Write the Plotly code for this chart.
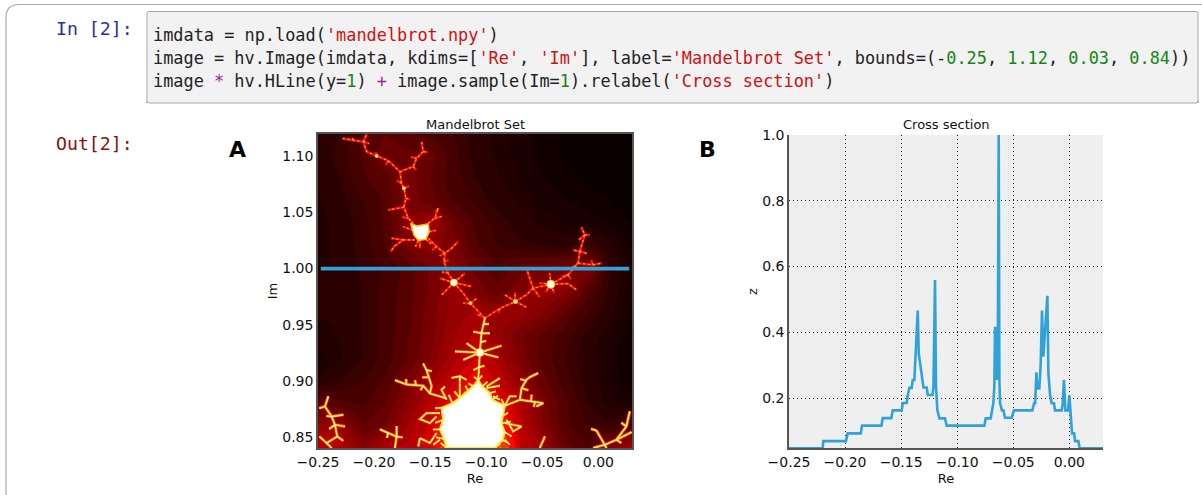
import plotly.graph_objects as go

W, H = 1202, 495

# ---------- data ----------
GRID_RE = [-.25, -.23, -.21, -.19, -.17, -.15, -.13, -.11, -.09, -.07, -.05, -.03, -.01, .01, .03]
GRID_IM = [1.12, 1.10, 1.08, 1.06, 1.04, 1.02, 1.00, .98, .96, .94, .92, .90, .88, .86, .84]
GRID_Z = [
    [.05, .07, .11, .14, .12, .11, .09, .06, .04, .03, .02, .01, .00, .00, .00],
    [.05, .08, .12, .16, .15, .15, .10, .06, .045, .03, .02, .01, .00, .00, .00],
    [.05, .07, .11, .13, .18, .14, .10, .07, .05, .035, .025, .02, .01, .00, .00],
    [.045, .06, .09, .12, .18, .15, .11, .085, .06, .045, .03, .025, .02, .012, .00],
    [.04, .055, .08, .12, .20, .24, .16, .11, .08, .06, .045, .035, .03, .022, .012],
    [.04, .055, .08, .115, .17, .20, .18, .12, .09, .075, .07, .06, .09, .05, .02],
    [.047, .05, .075, .095, .125, .17, .20, .16, .12, .16, .16, .19, .19, .065, .03],
    [.05, .05, .07, .10, .13, .17, .22, .18, .15, .18, .22, .20, .12, .06, .025],
    [.05, .05, .07, .10, .13, .18, .22, .24, .22, .22, .19, .13, .09, .05, .02],
    [.04, .05, .07, .10, .14, .18, .23, .27, .22, .17, .13, .10, .06, .035, .015],
    [.03, .045, .07, .10, .14, .19, .25, .30, .25, .18, .13, .09, .055, .03, .012],
    [.05, .07, .09, .12, .18, .23, .29, .38, .29, .21, .15, .10, .06, .03, .01],
    [.14, .12, .11, .14, .20, .27, .38, .80, .38, .26, .18, .12, .07, .04, .03],
    [.22, .22, .14, .17, .24, .31, .50, 1.0, .50, .28, .19, .12, .09, .08, .12],
    [.30, .28, .20, .26, .27, .34, .60, 1.0, .60, .30, .24, .15, .12, .20, .25],
]
BAND_LEVELS = [0, .012, .024, .036, .048, .07, .09, .115, .14, .165, .19, .21, .235, .26, .30, .34, .38, .45, .55, .70, .85, 1.0]

THIN_FILAMENTS = [
    [(-.228, 1.116), (-.2185, 1.1147), (-.2096, 1.113), (-.2066, 1.1043), (-.1977, 1.1004), (-.1873, 1.0962),
     (-.1769, 1.0864), (-.1755, 1.076), (-.1734, 1.0716), (-.1716, 1.0627), (-.1734, 1.0547), (-.1695, 1.0449), (-.1651, 1.0404)],
    [(-.2096, 1.113), (-.2072, 1.1182), (-.2066, 1.12)],
    [(-.1769, 1.0864), (-.1651, 1.0909), (-.1621, 1.0983), (-.1562, 1.1043), (-.1576, 1.1132)],
    [(-.1562, 1.1043), (-.1523, 1.1037)],
    [(-.1734, 1.0547), (-.1799, 1.0538), (-.1873, 1.0523)],
    [(-.1517, 1.0404), (-.1458, 1.0449), (-.1428, 1.0538)],
    [(-.1458, 1.0449), (-.1398, 1.0464)],
    [(-.165, 1.034), (-.174, 1.0374)],
    [(-.1636, 1.0256), (-.174, 1.0256), (-.1814, 1.0202), (-.1853, 1.0152)],
    [(-.174, 1.0256), (-.1844, 1.027)],
    [(-.1591, 1.026), (-.1591, 1.0181)],
    [(-.1517, 1.027), (-.1443, 1.0196), (-.1368, 1.0137), (-.1309, 1.0181), (-.125, 1.0241)],
    [(-.1368, 1.0137), (-.1377, 1.0063), (-.1339, .9959), (-.1288, .9875)],
    [(-.1288, .9875), (-.1413, .9914)],
    [(-.1288, .9875), (-.119, .9959)],
    [(-.1288, .9875), (-.1398, .9766)],
    [(-.1288, .9875), (-.1131, .984)],
    [(-.1288, .9875), (-.1205, .978), (-.114, .9691), (-.1012, .9558)],
    [(-.1146, .9691), (-.1205, .9691)],
    [(-.114, .9691), (-.1085, .9735)],
    [(-.1012, .9558), (-.0878, .9644), (-.0739, .9706)],
    [(-.0739, .9706), (-.0834, .9766)],
    [(-.0739, .9706), (-.0641, .9766), (-.0582, .9825), (-.0424, .986)],
    [(-.0739, .9706), (-.0641, .9655)],
    [(-.0582, .9825), (-.0626, .9959), (-.0641, 1.0003)],
    [(-.0424, .986), (-.0433, .9959)],
    [(-.0424, .986), (-.0522, .987)],
    [(-.0424, .986), (-.027, .9866), (-.0195, .981)],
    [(-.0424, .986), (-.027, .9944), (-.018, 1.0048), (-.0166, 1.0152), (-.0225, 1.0166)],
    [(-.0166, 1.0152), (-.0121, 1.03), (-.015, 1.0368)],
    [(-.0121, 1.03), (-.0077, 1.03)],
    [(-.018, 1.0048), (-.0047, 1.0033), (.0027, 1.0048)],
    # short spurs
    [(-.2185, 1.1147), (-.2195, 1.1165)], [(-.2096, 1.113), (-.2045, 1.1115)], [(-.1977, 1.1004), (-.1985, 1.104)],
    [(-.1873, 1.0962), (-.1895, 1.0925)], [(-.1755, 1.076), (-.1795, 1.0785)], [(-.1734, 1.0716), (-.169, 1.0735)],
    [(-.1716, 1.0627), (-.168, 1.0615)], [(-.1695, 1.0449), (-.1745, 1.046)], [(-.1621, 1.0983), (-.167, 1.0995)],
    [(-.1651, 1.0909), (-.1625, 1.088)], [(-.1428, 1.0538), (-.145, 1.0505)], [(-.1508, 1.033), (-.145, 1.034)],
    [(-.1538, 1.0261), (-.149, 1.022)], [(-.1606, 1.025), (-.163, 1.0195)], [(-.1443, 1.0196), (-.148, 1.0165)],
    [(-.1368, 1.0137), (-.1415, 1.0115)], [(-.1339, .9959), (-.1395, .997)], [(-.1377, 1.0063), (-.1335, 1.0075)],
    [(-.0121, 1.03), (-.0175, 1.0255)], [(-.0166, 1.0152), (-.0105, 1.0135)], [(-.018, 1.0048), (-.0235, 1.0005)],
    [(-.0047, 1.0033), (-.0065, 1.0075)], [(-.027, .9944), (-.032, .993)], [(-.027, .9944), (-.0245, .9905)],
    [(-.0424, .986), (-.0395, .9785)], [(-.0424, .986), (-.047, .979)], [(-.0582, .9825), (-.0525, .975)],
    [(-.0739, .9706), (-.0745, .979)], [(-.0878, .9644), (-.089, .9605)], [(-.1012, .9558), (-.1085, .9595)],
]
BRIGHT_FILAMENTS = [
    [(-.1012, .9558), (-.1042, .9423), (-.1057, .9251), (-.1071, .9007)],
    [(-.1057, .9251), (-.1175, .9335)],
    [(-.1057, .9251), (-.1279, .9261)],
    [(-.1057, .9251), (-.0864, .9312)],
    [(-.1057, .9251), (-.0893, .9208)],
    [(-.1057, .9251), (-.1205, .9186)],
    [(-.1042, .9423), (-.0967, .9423)],
    [(-.1042, .9423), (-.1116, .9438)],
    [(-.1354, .8842), (-.1502, .8886), (-.1561, .8955), (-.171, .8966), (-.1814, .9005)],
    [(-.1502, .8886), (-.1487, .8955), (-.1532, .9094), (-.1562, .9153)],
    [(-.1235, .8847), (-.1235, .904), (-.1309, .9025)],
    [(-.1235, .904), (-.1175, .9008)],
    [(-.1354, .883), (-.1398, .8919), (-.1368, .8949)],
    [(-.1116, .8951), (-.116, .8978)],
    [(-.0997, .8949), (-.0878, .9023)],
    [(-.0997, .8934), (-.0878, .8955)],
    [(-.0938, .886), (-.0878, .883)],
    [(-.0834, .8776), (-.079, .886), (-.073, .886)],
    [(-.0834, .8776), (-.07, .883), (-.0685, .8934), (-.0641, .9008), (-.0611, .9032), (-.0537, .9068)],
    [(-.07, .883), (-.0492, .88), (-.0552, .8771)],
    [(-.1413, .8711), (-.1532, .8711), (-.1591, .8658), (-.1502, .8622), (-.1443, .8681)],
    [(-.0834, .8622), (-.0685, .8592), (-.076, .8548), (-.0819, .8652)],
    [(-.1443, .8533), (-.1502, .8444), (-.1591, .8488)],
    [(-.1413, .8474), (-.1472, .8429)],
    [(-.0834, .8474), (-.079, .8429)],
    [(-.1948, .8566), (-.1799, .8501), (-.1799, .8596)],
    [(-.1799, .8501), (-.1814, .84)],
    [(-.1591, .8489), (-.1606, .8414)],
    [(-.0522, .84), (-.0477, .8503)],
    [(-.2408, .886), (-.2438, .877), (-.2378, .8681), (-.2274, .8696)],
    [(-.2378, .8681), (-.2349, .8607), (-.2259, .8592)],
    [(-.2349, .8607), (-.2328, .8503), (-.2423, .8444), (-.2488, .8503)],
    [(-.2423, .8444), (-.2378, .84)],
    [(-.2488, .8755), (-.2438, .877)],
    [(.028, .8726), (.025, .8592), (.0161, .8473), (.0057, .8429), (-.0017, .8556)],
    [(.0057, .8429), (.0072, .84)],
    [(.0057, .8429), (-.0047, .84)],
    [(.0295, .8541), (.0161, .8473)],
    # spikes round the main body
    [(-.1071, .9007), (-.1035, .9045)], [(-.1071, .9007), (-.111, .9035)], [(-.1035, .895), (-.099, .899)],
    [(-.1116, .8951), (-.1155, .8905)], [(-.0967, .8889), (-.0915, .8905)], [(-.0945, .883), (-.0895, .8865)],
    [(-.0834, .8776), (-.0865, .8835)], [(-.0864, .8622), (-.078, .8635)], [(-.0864, .868), (-.0805, .8715)],
    [(-.0835, .854), (-.0775, .8505)], [(-.0855, .847), (-.0805, .8445)], [(-.0923, .84), (-.0875, .8435)],
    [(-.1354, .84), (-.1405, .8445)], [(-.1375, .848), (-.1445, .8495)], [(-.1413, .8566), (-.1475, .8565)],
    [(-.1385, .865), (-.1455, .8625)], [(-.1398, .8758), (-.1455, .8755)], [(-.13, .88), (-.1335, .8875)],
    [(-.1235, .8847), (-.1285, .8905)], [(-.1158, .8899), (-.1185, .8955)],
    # spurs on the trunk, arms and trees
    [(-.1062, .912), (-.1015, .9135)], [(-.1062, .912), (-.1115, .9095)], [(-.1045, .9345), (-.1, .9355)],
    [(-.1025, .9505), (-.0975, .9505)], [(-.171, .8966), (-.1715, .9015)], [(-.1561, .8955), (-.1585, .8915)],
    [(-.1625, .8955), (-.1635, .9005)], [(-.1532, .9094), (-.1485, .9085)], [(-.152, .903), (-.157, .903)],
    [(-.0641, .8999), (-.0695, .9015)], [(-.0685, .8934), (-.0625, .8915)], [(-.06, .8815), (-.0595, .8875)],
    [(-.0565, .8815), (-.0575, .8765)], [(-.2378, .8681), (-.2425, .8685)], [(-.2328, .8503), (-.2275, .8465)],
    [(-.2349, .8607), (-.24, .857)], [(.025, .8592), (.0205, .8625)], [(.0161, .8473), (.0205, .8445)],
    [(-.0017, .8556), (-.0065, .857)], [(-.1799, .8501), (-.1745, .8495)], [(-.1875, .8535), (-.1885, .849)],
]
BODY_RE = [-.1071, -.1035, -.0967, -.0945, -.0834, -.0864, -.0835, -.0855, -.0923, -.1354, -.1375, -.1413, -.1385, -.1398, -.1300, -.1235, -.1116, -.1071]
BODY_IM = [.9007, .8950, .8889, .8830, .8776, .8622, .8540, .8470, .84, .84, .8480, .8566, .8650, .8758, .8800, .8847, .8951, .9007]
BLOB_RE = [-.1674, -.1621, -.1517, -.1508, -.1538, -.1606, -.1645, -.1665, -.1674]
BLOB_IM = [1.0404, 1.038, 1.0398, 1.033, 1.0261, 1.025, 1.03, 1.036, 1.0404]
SPOT_RE = [-.1288, -.0424, -.1057, -.0739, -.114, -.1977, -.1734]
SPOT_IM = [.9875, .986, .9251, .9706, .9691, 1.1004, 1.0716]
SPOT_SIZE = [7, 8, 8, 4, 3, 3, 3]

CROSS_RE = [-.25, -.22, -.2194, -.1992, -.1977, -.186, -.1849, -.1676, -.1664, -.1587, -.1575, -.1495, -.1486, -.145,
            -.1441, -.1426, -.1406, -.1397, -.1382, -.137, -.1352, -.1343, -.1313, -.1301, -.1272, -.1263, -.1221,
            -.1212, -.1198, -.1189, -.1177, -.1159, -.1109, -.1094, -.0758, -.0746, -.0702, -.0693, -.0678, -.0669,
            -.0663, -.0654, -.0648, -.0639, -.063, -.0624, -.0618, -.0601, -.0588, -.0574, -.0514, -.0494, -.033,
            -.0315, -.0305, -.0294, -.0285, -.0268, -.0256, -.0244, -.0232, -.0214, -.0196, -.0187, -.0172, -.0158,
            -.0137, -.0128, -.0068, -.0059, -.0048, -.0036, -.0012, 0, .0012, .0024, .0042, .0051, .008, .0092, .0303]
CROSS_Z = [.047, .047, .069, .069, .0925, .0925, .116, .116, .139, .139, .1625, .1625, .185, .185,
           .209, .231, .231, .255, .255, .336, .466, .336, .255, .232, .232, .209, .209,
           .231, .559, .234, .1635, .138, .138, .116, .116, .138, .138, .1615, .184, .234,
           .417, .255, .417, .255, 1.0, .255, .184, .1625, .1625, .14, .14, .1625, .1625,
           .184, .184, .278, .229, .229, .3, .466, .326, .419, .511, .275, .209, .184,
           .184, .1625, .1625, .184, .255, .1625, .1625, .208, .133, .0925, .0925, .069, .069, .047, .047]

X_TICKS = [-.25, -.2, -.15, -.1, -.05, 0]
IM_TICKS = [.85, .9, .95, 1.0, 1.05, 1.1]
Z_TICKS = [.2, .4, .6, .8, 1.0]

CODE_LINES = [
    "imdata = np.load(<S>'mandelbrot.npy'</S>)",
    "image = hv.Image(imdata, kdims=[<S>'Re'</S>, <S>'Im'</S>], label=<S>'Mandelbrot Set'</S>, "
    "bounds=(-<N>0.25</N>, <N>1.12</N>, <N>0.03</N>, <N>0.84</N>))",
    "image <O>*</O> hv.HLine(y=<N>1</N>) <O>+</O> image.sample(Im=<N>1</N>).relabel(<S>'Cross section'</S>)",
]

# ---------- styling ----------
BLUE = "#30a2da"
TICK_FONT = dict(family="DejaVu Sans", size=14, color="#111111")
SMALL_FONT = dict(family="DejaVu Sans", size=13, color="#111111")
STR_C, NUM_C, OP_C = "#d01010", "#118811", "#9c1f9c"


def px(x):
    return x / W


def py(y):
    return 1 - y / H


def hot(z):
    r = min(1, .0416 + z * 2.625)
    g = max(0, min(1, (z - .365) / .375))
    b = max(0, min(1, (z - .746) / .254))
    return f"rgb({int(r*255)},{int(g*255)},{int(b*255)})"


def stepped_scale(levels):
    scale = []
    for lo, hi in zip(levels[:-1], levels[1:]):
        scale += [[lo, hot(lo)], [hi, hot(lo)]]
    scale[-1][1] = hot(1.0)
    return scale


def join(polys):
    xs, ys = [], []
    for p in polys:
        xs += [a for a, _ in p] + [None]
        ys += [b for _, b in p] + [None]
    return xs, ys


def colour(line):
    for tag, c in (("S", STR_C), ("N", NUM_C), ("O", OP_C)):
        line = line.replace(f"<{tag}>", f'<span style="color:{c}">').replace(f"</{tag}>", "</span>")
    return line


fig = go.Figure()

fig.add_trace(go.Heatmap(x=GRID_RE, y=GRID_IM, z=GRID_Z, zmin=0, zmax=1, zsmooth="best",
                         colorscale=stepped_scale(BAND_LEVELS), showscale=False,
                         xaxis="x", yaxis="y", hoverinfo="skip"))

tx, ty = join(THIN_FILAMENTS)
bx, by = join(BRIGHT_FILAMENTS)
for xs, ys, w, c, d in [(tx, ty, 3.0, "#b00000", "solid"), (tx, ty, 1.9, "#ff1800", "solid"),
                        (tx, ty, 1.1, "#ffb030", "2px,3px"),
                        (bx, by, 3.6, "#e80000", "solid"), (bx, by, 2.4, "#ff8800", "solid"),
                        (bx, by, 1.2, "#ffff50", "solid"), (bx, by, .9, "#ffffff", "2px,4px")]:
    fig.add_trace(go.Scatter(x=xs, y=ys, mode="lines", line=dict(color=c, width=w, dash=d), connectgaps=False,
                             showlegend=False, hoverinfo="skip", xaxis="x", yaxis="y"))

for xs, ys, c, w in [(BODY_RE, BODY_IM, "#ffee30", 2.0), (BLOB_RE, BLOB_IM, "#ffc000", 1.5)]:
    fig.add_trace(go.Scatter(x=xs, y=ys, mode="lines", fill="toself", fillcolor="#ffffff",
                             line=dict(color=c, width=w), showlegend=False, hoverinfo="skip",
                             xaxis="x", yaxis="y"))

fig.add_trace(go.Scatter(x=SPOT_RE, y=SPOT_IM, mode="markers",
                         marker=dict(size=SPOT_SIZE, color="#ffffff", opacity=1, line=dict(color="#ffd000", width=1)),
                         showlegend=False, hoverinfo="skip", xaxis="x", yaxis="y"))

fig.add_trace(go.Scatter(x=[-.2475, .0275], y=[1, 1], mode="lines", line=dict(color=BLUE, width=3.8),
                         showlegend=False, hoverinfo="skip", xaxis="x", yaxis="y"))

fig.add_trace(go.Scatter(x=CROSS_RE, y=CROSS_Z, mode="lines", line=dict(color=BLUE, width=2.6),
                         showlegend=False, hoverinfo="skip", xaxis="x2", yaxis="y2"))

axis_common = dict(ticks="", zeroline=False, tickfont=TICK_FONT, showline=True,
                   linecolor="#555555", linewidth=1.5, automargin=False)
fig.update_layout(
    width=W, height=H, margin=dict(l=0, r=0, t=0, b=0), paper_bgcolor="#ffffff", plot_bgcolor="#efefef",
    showlegend=False,
    xaxis=dict(domain=[px(318), px(632)], range=[-.25, .03], anchor="y", tickvals=X_TICKS, tickformat=".2f",
               title=dict(text="Re", font=SMALL_FONT, standoff=5), mirror=True, showgrid=False, **axis_common),
    yaxis=dict(domain=[py(448), py(134)], range=[.84, 1.12], anchor="x", tickvals=IM_TICKS, tickformat=".2f",
               title=dict(text="Im", font=SMALL_FONT, standoff=2), mirror=True, showgrid=False, **axis_common),
    xaxis2=dict(domain=[px(789), px(1103)], range=[-.25, .03], anchor="y2", tickvals=X_TICKS, tickformat=".2f",
                title=dict(text="Re", font=SMALL_FONT, standoff=5), showgrid=True,
                gridcolor="#222222", griddash="1px,3px", gridwidth=1, **axis_common),
    yaxis2=dict(domain=[py(448), py(135)], range=[.048, 1.0], anchor="x2", tickvals=Z_TICKS, tickformat=".1f",
                title=dict(text="z", font=SMALL_FONT, standoff=2), showgrid=True,
                gridcolor="#222222", griddash="1px,3px", gridwidth=1, **axis_common),
)


def rounded(x0, y0, x1, y1, r):
    return (f"M {px(x0)} {py(y1)} L {px(x0)} {py(y0 + r)} Q {px(x0)} {py(y0)} {px(x0 + r)} {py(y0)} "
            f"L {px(x1 - r)} {py(y0)} Q {px(x1)} {py(y0)} {px(x1)} {py(y0 + r)} L {px(x1)} {py(y1)}")


fig.add_shape(type="path", xref="paper", yref="paper", path=rounded(6, 4.5, 1216, 520, 13),
              line=dict(color="#ababab", width=1.2), layer="below")
fig.add_shape(type="path", xref="paper", yref="paper",
              path=rounded(147, 11.5, 1198, 103, 2) + f" L {px(1198)} {py(101)} Q {px(1198)} {py(103)} {px(1196)} {py(103)}"
                   f" L {px(149)} {py(103)} Q {px(147)} {py(103)} {px(147)} {py(101)} Z",
              fillcolor="#f2f2f2", line=dict(color="#a8a8a8", width=1), layer="below")

CODE_FONT = dict(family="DejaVu Sans Mono", size=16.9, color="#222222")
annots = []


def text(x, y, s, font, xanchor="left", yanchor="middle", **kw):
    annots.append(dict(x=px(x), y=py(y), xref="paper", yref="paper", text=s, showarrow=False, font=font,
                       xanchor=xanchor, yanchor=yanchor, align="left", borderpad=0, borderwidth=0, **kw))


for yy, line in zip([35, 58, 81], CODE_LINES):
    text(153, yy, colour(line), CODE_FONT)
text(56, 28, "In [2]:", dict(family="DejaVu Sans Mono", size=18.2, color="#2a2f9c"))
text(56, 143, "Out[2]:", dict(family="DejaVu Sans Mono", size=18.2, color="#8b1010"))
text(475, 124, "Mandelbrot Set", SMALL_FONT, xanchor="center")
text(946, 124, "Cross section", SMALL_FONT, xanchor="center")
LABEL_FONT = dict(family="DejaVu Sans", size=22, color="#000000", weight="bold")
text(237, 150, "A", LABEL_FONT, xanchor="center")
text(707, 150, "B", LABEL_FONT, xanchor="center")
fig.update_layout(annotations=annots)

fig.write_html("out.html", config={"displayModeBar": False},
               post_script="document.body.style.margin='0';document.documentElement.style.overflow='hidden';")
